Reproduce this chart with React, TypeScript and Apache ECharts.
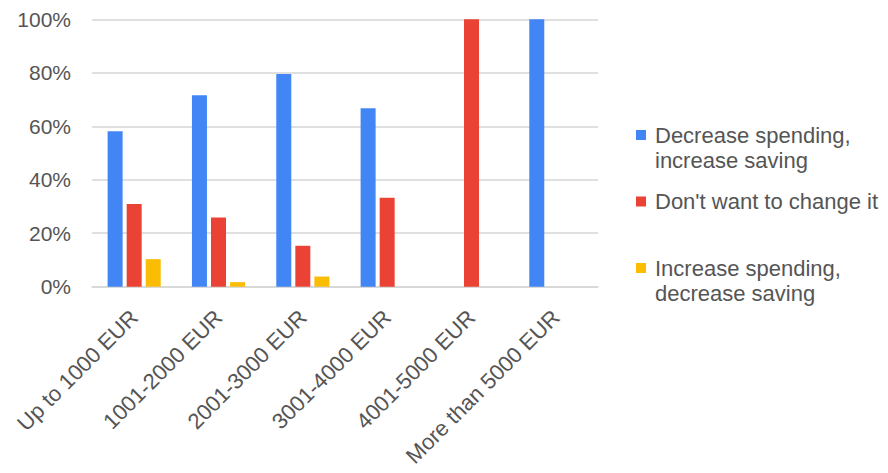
import React, { useEffect, useRef } from "react";
import * as echarts from "echarts";

const categories = [
  "Up to 1000 EUR",
  "1001-2000 EUR",
  "2001-3000 EUR",
  "3001-4000 EUR",
  "4001-5000 EUR",
  "More than 5000 EUR",
];
const seriesNames = [
  "Decrease spending, increase saving",
  "Don't want to change it",
  "Increase spending, decrease saving",
];
const decreaseSpending = [58.1, 71.6, 79.5, 66.7, 0, 100];
const dontChange = [30.9, 25.9, 15.3, 33.3, 100, 0];
const increaseSpending = [10.3, 1.7, 3.8, 0, 0, 0];
const yTicks = [0, 20, 40, 60, 80, 100];

const colors = ["#4285F4", "#EA4335", "#FBBC04"];
const FONT = "Liberation Sans, Arial, sans-serif";
const TEXT = "#555555";

export default function App() {
  const ref = useRef<HTMLDivElement>(null);
  useEffect(() => {
    if (!ref.current) return;
    const chart = echarts.init(ref.current, null, { renderer: "svg" });
    const legendBase = {
      orient: "vertical" as const,
      left: 636,
      padding: 0,
      itemWidth: 10,
      itemHeight: 10,
      icon: "rect",
      selectedMode: false,
      textStyle: {
        fontFamily: FONT,
        fontSize: 22,
        color: TEXT,
        lineHeight: 25,
        padding: [0, 0, 0, 4],
      },
    };
    // a leading empty line keeps the first text line level with the icon
    const twoLine = (n: string) => "\n" + n.replace(", ", ",\n");
    chart.setOption({
      animation: false,
      color: colors,
      grid: { left: 92, right: 290, top: 19.3, bottom: 186.3, containLabel: false },
      legend: [
        { ...legendBase, top: 97.5, data: [seriesNames[0]], formatter: twoLine },
        { ...legendBase, top: 189, data: [seriesNames[1]] },
        { ...legendBase, top: 230.5, data: [seriesNames[2]], formatter: twoLine },
      ],
      xAxis: {
        type: "category",
        data: categories,
        axisLine: { show: true, lineStyle: { color: "#d6d6d6", width: 1.5 } },
        axisTick: { show: false },
        axisLabel: {
          rotate: 45,
          margin: 27,
          interval: 0,
          fontFamily: FONT,
          fontSize: 22,
          color: TEXT,
        },
      },
      yAxis: {
        type: "value",
        min: yTicks[0],
        max: yTicks[yTicks.length - 1],
        interval: yTicks[1] - yTicks[0],
        axisLine: { show: false },
        axisTick: { show: false },
        splitLine: { lineStyle: { color: "#d6d6d6", width: 1.5 } },
        axisLabel: {
          formatter: "{value}%",
          margin: 21,
          fontFamily: FONT,
          fontSize: 21,
          color: TEXT,
        },
      },
      series: [
        { name: seriesNames[0], type: "bar", data: decreaseSpending, barWidth: 15, barGap: "27%" },
        { name: seriesNames[1], type: "bar", data: dontChange, barWidth: 15, barGap: "27%" },
        { name: seriesNames[2], type: "bar", data: increaseSpending, barWidth: 15, barGap: "27%" },
      ],
    });
    return () => chart.dispose();
  }, []);
  return (
    <div
      ref={ref}
      style={{ position: "fixed", left: 0, top: 0, width: 888, height: 473, background: "#fff" }}
    />
  );
}
